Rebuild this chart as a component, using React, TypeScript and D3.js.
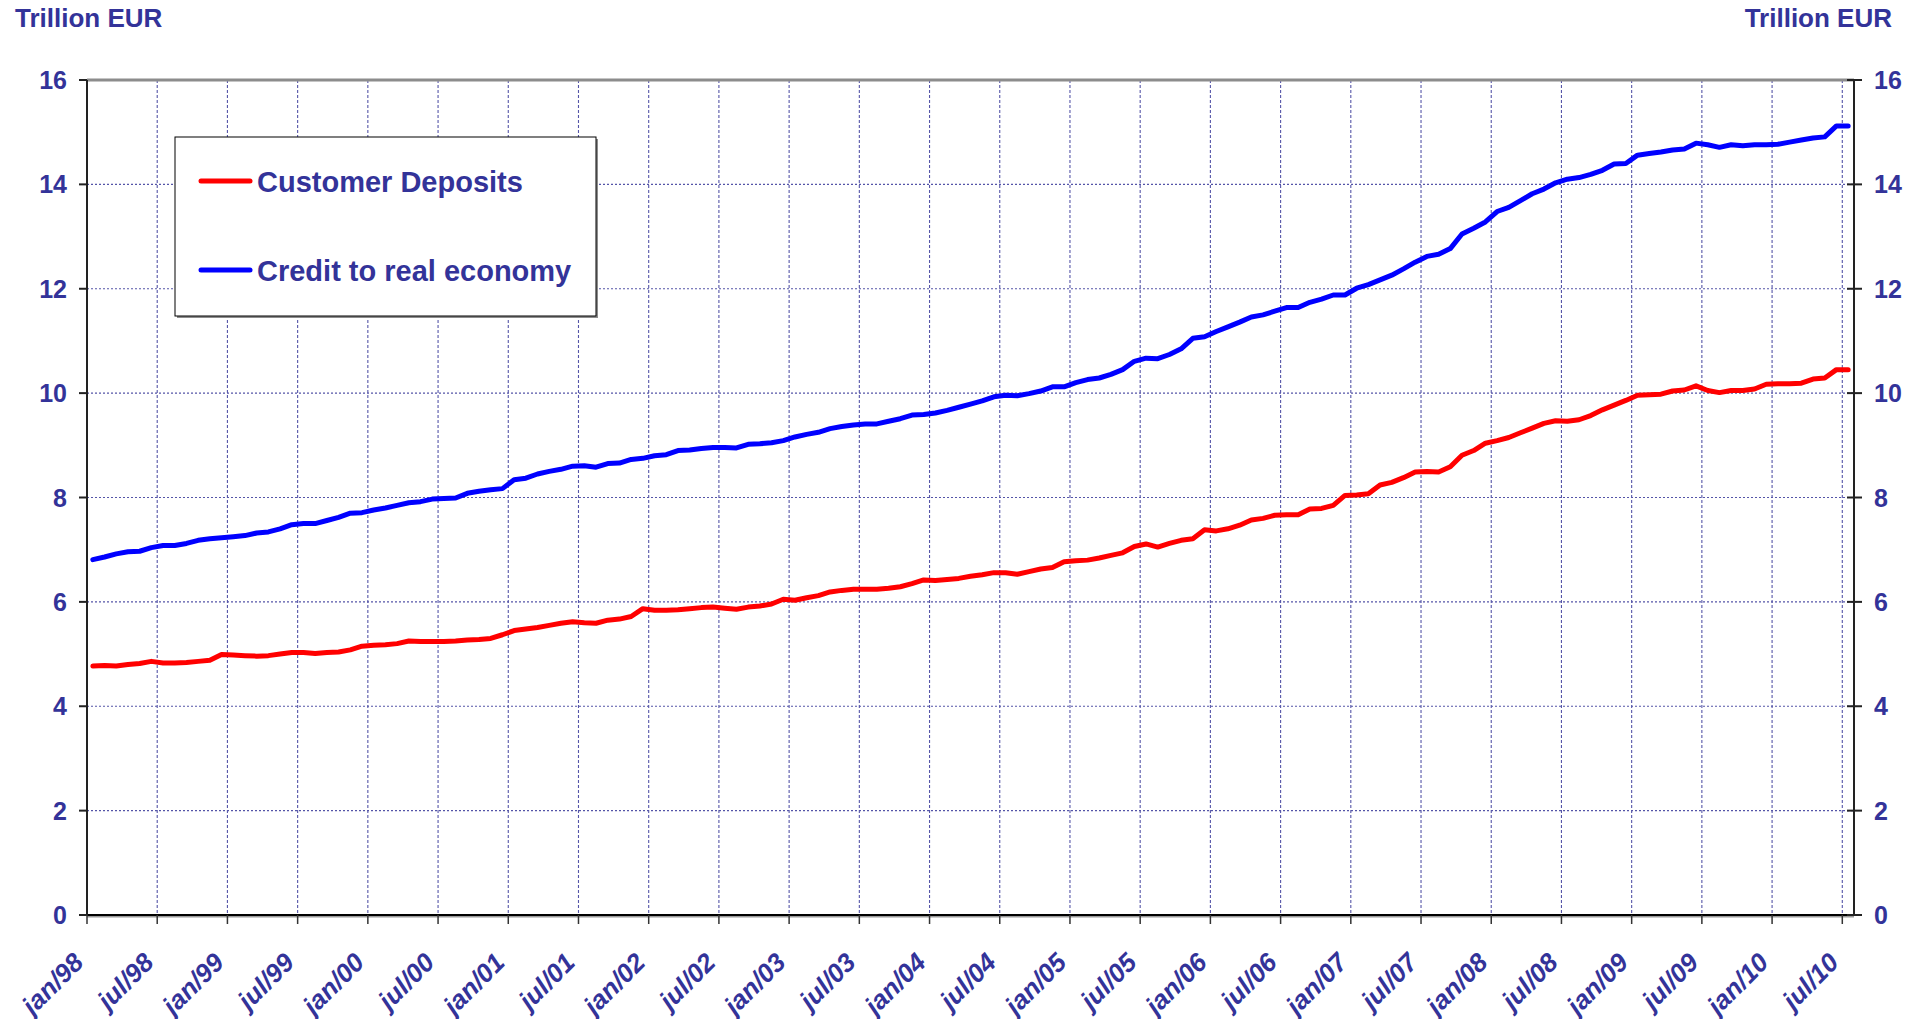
import React from "react";
import * as d3 from "d3";

// monthly observations, jan/98 .. jul/10 (trillion EUR)
const months = d3.timeMonth.range(new Date(1998, 0, 1), new Date(2010, 7, 1));
const monthKeys = months.map(d3.timeFormat("%Y-%m"));

const tickLabels = [
  "jan/98", "jul/98", "jan/99", "jul/99", "jan/00", "jul/00", "jan/01", "jul/01",
  "jan/02", "jul/02", "jan/03", "jul/03", "jan/04", "jul/04", "jan/05", "jul/05",
  "jan/06", "jul/06", "jan/07", "jul/07", "jan/08", "jul/08", "jan/09", "jul/09",
  "jan/10", "jul/10",
];

const yTicks = [0, 2, 4, 6, 8, 10, 12, 14, 16];

const customerDeposits = [
  4.77, 4.78, 4.77, 4.80, 4.82, 4.86, 4.83, 4.83, 4.84, 4.86, 4.88, 4.99,
  4.98, 4.97, 4.96, 4.97, 5.00, 5.03, 5.03, 5.01, 5.03, 5.04, 5.08, 5.15,
  5.17, 5.18, 5.20, 5.25, 5.24, 5.24, 5.24, 5.25, 5.27, 5.28, 5.30, 5.37,
  5.45, 5.48, 5.51, 5.55, 5.59, 5.62, 5.60, 5.59, 5.65, 5.67, 5.72, 5.87,
  5.84, 5.84, 5.85, 5.87, 5.89, 5.90, 5.88, 5.86, 5.90, 5.92, 5.96, 6.05,
  6.03, 6.08, 6.12, 6.19, 6.22, 6.24, 6.24, 6.24, 6.26, 6.29, 6.35, 6.42,
  6.41, 6.43, 6.45, 6.49, 6.52, 6.56, 6.56, 6.53, 6.58, 6.63, 6.66, 6.77,
  6.79, 6.80, 6.84, 6.89, 6.94, 7.06, 7.11, 7.05, 7.12, 7.18, 7.21, 7.38,
  7.36, 7.40, 7.47, 7.57, 7.60, 7.66, 7.67, 7.67, 7.78, 7.79, 7.85, 8.04,
  8.05, 8.07, 8.24, 8.29, 8.38, 8.49, 8.50, 8.49, 8.59, 8.81, 8.90, 9.04,
  9.09, 9.15, 9.24, 9.33, 9.42, 9.47, 9.46, 9.49, 9.57, 9.68, 9.77, 9.86,
  9.96, 9.97, 9.98, 10.04, 10.06, 10.14, 10.05, 10.01, 10.05, 10.05, 10.08, 10.17,
  10.18, 10.18, 10.19, 10.27, 10.29, 10.45, 10.45,
];

const creditRealEconomy = [
  6.81, 6.86, 6.92, 6.96, 6.97, 7.04, 7.08, 7.08, 7.12, 7.18, 7.21, 7.23,
  7.25, 7.27, 7.32, 7.34, 7.40, 7.48, 7.50, 7.50, 7.56, 7.62, 7.70, 7.71,
  7.76, 7.80, 7.85, 7.90, 7.92, 7.97, 7.98, 7.99, 8.08, 8.12, 8.15, 8.17,
  8.34, 8.37, 8.45, 8.50, 8.54, 8.60, 8.61, 8.58, 8.65, 8.66, 8.73, 8.75,
  8.80, 8.82, 8.90, 8.91, 8.94, 8.96, 8.96, 8.95, 9.02, 9.03, 9.05, 9.09,
  9.16, 9.21, 9.25, 9.32, 9.36, 9.39, 9.41, 9.41, 9.46, 9.51, 9.58, 9.59,
  9.62, 9.67, 9.73, 9.79, 9.85, 9.93, 9.96, 9.95, 9.99, 10.04, 10.12, 10.12,
  10.20, 10.26, 10.29, 10.36, 10.45, 10.61, 10.67, 10.66, 10.74, 10.85, 11.05, 11.08,
  11.18, 11.27, 11.36, 11.46, 11.50, 11.57, 11.64, 11.64, 11.74, 11.80, 11.88, 11.88,
  12.01, 12.08, 12.17, 12.26, 12.38, 12.51, 12.62, 12.66, 12.77, 13.05, 13.16, 13.28,
  13.48, 13.56, 13.69, 13.82, 13.91, 14.03, 14.10, 14.13, 14.19, 14.27, 14.39, 14.40,
  14.56, 14.59, 14.62, 14.66, 14.68, 14.79, 14.76, 14.71, 14.76, 14.74, 14.76, 14.76,
  14.77, 14.81, 14.85, 14.89, 14.91, 15.12, 15.12,
];

const series = [
  { name: "Customer Deposits", color: "#ff0000", values: customerDeposits },
  { name: "Credit to real economy", color: "#0000ff", values: creditRealEconomy },
];

const W = 1923;
const H = 1019;
const left = 87;
const right = 1854;
const top = 80;
const bottom = 915;
const navy = "#333399";
const font = "'Liberation Sans', Arial, sans-serif";

const App = () => {
  const x = d3.scaleBand().domain(monthKeys).range([left, right]).padding(0);
  const y = d3.scaleLinear().domain([0, 16]).range([bottom, top]);
  const bw = x.bandwidth();

  const line = d3
    .line<number>()
    .x((_, i) => (x(monthKeys[i]) as number) + bw / 2)
    .y((d) => y(d));

  const xTicks = tickLabels.map((label, k) => ({
    label,
    pos: x(monthKeys[k * 6]) as number,
  }));

  return (
    <svg
      width={W}
      height={H}
      style={{ position: "absolute", left: 0, top: 0, background: "#fff" }}
      fontFamily={font}
    >
      <rect width={W} height={H} fill="#fff" />

      {/* unit labels */}
      <text x={15} y={27} fontSize={26} fontWeight="bold" fill={navy}>
        Trillion EUR
      </text>
      <text x={1892} y={27} fontSize={26} fontWeight="bold" fill={navy} textAnchor="end">
        Trillion EUR
      </text>

      {/* horizontal grid */}
      {yTicks
        .filter((t) => t > 0 && t < 16)
        .map((t) => (
          <line
            key={"h" + t}
            x1={left}
            x2={right}
            y1={y(t)}
            y2={y(t)}
            stroke="#5555a8"
            strokeWidth={1.2}
            strokeDasharray="2,2"
          />
        ))}

      {/* vertical grid */}
      {xTicks.slice(1).map((t) => (
        <line
          key={"v" + t.label}
          x1={t.pos}
          x2={t.pos}
          y1={top}
          y2={bottom}
          stroke="#5555a8"
          strokeWidth={1.1}
          strokeDasharray="3,2"
        />
      ))}

      {/* plot frame */}
      <line x1={left} x2={right} y1={top} y2={top} stroke="#8c8c8c" strokeWidth={3} />
      <line x1={left} x2={right} y1={bottom + 1.5} y2={bottom + 1.5} stroke="#9a9a9a" strokeWidth={2} />
      <line x1={left} x2={right} y1={bottom} y2={bottom} stroke="#000" strokeWidth={2} />
      <line x1={left} x2={left} y1={top} y2={bottom} stroke="#222" strokeWidth={2} />
      <line x1={right} x2={right} y1={top} y2={bottom} stroke="#222" strokeWidth={2} />

      {/* y axes */}
      {yTicks.map((t) => (
        <g key={"y" + t}>
          <line x1={left - 8} x2={left} y1={y(t)} y2={y(t)} stroke="#222" strokeWidth={2} />
          <line x1={right - 7} x2={right + 8} y1={y(t)} y2={y(t)} stroke="#222" strokeWidth={2} />
          <text
            x={67}
            y={y(t)}
            dy="0.36em"
            textAnchor="end"
            fontSize={25}
            fontWeight="bold"
            fill={navy}
          >
            {t}
          </text>
          <text
            x={1874}
            y={y(t)}
            dy="0.36em"
            fontSize={25}
            fontWeight="bold"
            fill={navy}
          >
            {t}
          </text>
        </g>
      ))}

      {/* x axis */}
      {xTicks.map((t) => (
        <g key={"x" + t.label}>
          <line x1={t.pos} x2={t.pos} y1={bottom} y2={bottom + 9} stroke="#333" strokeWidth={1.5} />
          <text
            transform={`translate(${t.pos - 2},${964}) rotate(-45)`}
            textAnchor="end"
            fontSize={26}
            fontWeight="bold"
            fontStyle="italic"
            fill={navy}
          >
            {t.label}
          </text>
        </g>
      ))}

      {/* series */}
      {series.map((s) => (
        <path
          key={s.name}
          d={line(s.values) || ""}
          fill="none"
          stroke={s.color}
          strokeWidth={5}
          strokeLinejoin="round"
          strokeLinecap="round"
        />
      ))}

      {/* legend */}
      <g>
        <rect x={177} y={139} width={421} height={179} fill="#8c8c8c" />
        <rect x={175} y={137} width={421} height={179} fill="#fff" stroke="#000" strokeWidth={1} />
        {series.map((s, i) => (
          <g key={"lg" + s.name} transform={`translate(0,${i * 89})`}>
            <line x1={201} x2={250} y1={181} y2={181} stroke={s.color} strokeWidth={5} strokeLinecap="round" />
            <text x={257} y={192} fontSize={29} fontWeight="bold" fill={navy}>
              {s.name}
            </text>
          </g>
        ))}
      </g>
    </svg>
  );
};

export default App;
